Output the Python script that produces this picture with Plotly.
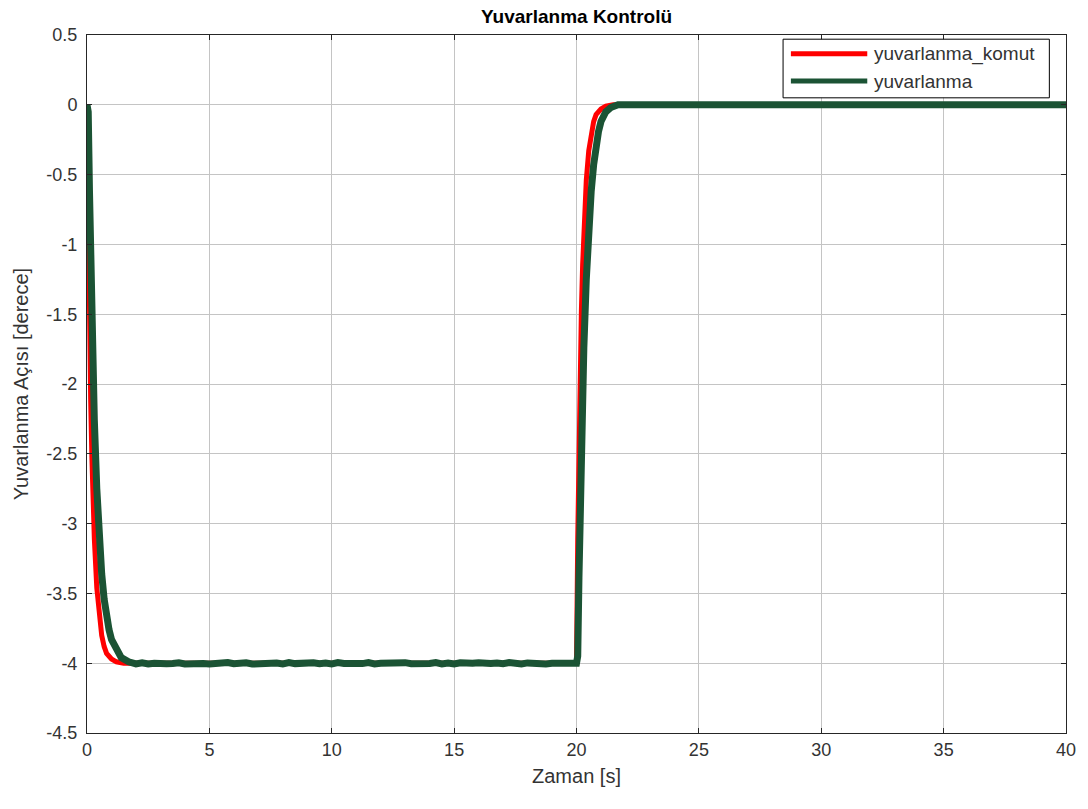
import plotly.graph_objects as go

# ---- data ----
cmd_t = [0, 0.05, 0.1, 0.15, 0.2, 0.25, 0.3, 0.4, 0.5, 0.6, 0.7, 0.8, 1.0, 1.2, 1.5,
         20.0, 20.05, 20.1, 20.15, 20.2, 20.25, 20.3, 20.4, 20.5, 20.6, 20.7, 20.8, 21.0, 21.2, 21.5, 40.0]
cmd_v = [0, -0.89, -1.57, -2.11, -2.53, -2.85, -3.11, -3.46, -3.67, -3.80, -3.88, -3.93, -3.97, -3.99, -4.0,
         -4.0, -3.11, -2.43, -1.89, -1.47, -1.15, -0.89, -0.54, -0.33, -0.20, -0.12, -0.07, -0.03, -0.01, 0.0, 0.0]

roll_t = [0, 0.05, 0.1, 0.15, 0.2, 0.3, 0.4, 0.5, 0.6, 0.7, 0.8, 0.9, 1.0, 1.2, 1.4, 1.7,
          2.0, 2.25, 2.5, 2.75, 3.0, 3.25, 3.5, 3.75, 4.0, 4.25, 4.5, 4.75, 5.0, 5.25, 5.5, 5.75,
          6.0, 6.25, 6.5, 6.75, 7.0, 7.25, 7.5, 7.75, 8.0, 8.25, 8.5, 8.75, 9.0, 9.25, 9.5, 9.75,
          10.0, 10.25, 10.5, 10.75, 11.0, 11.25, 11.5, 11.75, 12.0, 12.25, 12.5, 12.75, 13.0, 13.25, 13.5, 13.75,
          14.0, 14.25, 14.5, 14.75, 15.0, 15.25, 15.5, 15.75, 16.0, 16.25, 16.5, 16.75, 17.0, 17.25, 17.5, 17.75,
          18.0, 18.25, 18.5, 18.75, 19.0, 19.25, 19.5, 19.75, 20.0,
          20.05, 20.1, 20.15, 20.2, 20.3, 20.4, 20.5, 20.6, 20.7, 20.8, 20.9, 21.0, 21.2, 21.4, 21.7, 22.0,
          25.0, 30.0, 35.0, 40.0]
roll_v = [0, -0.05, -0.61, -1.13, -1.57, -2.26, -2.75, -3.11, -3.36, -3.54, -3.67, -3.76, -3.83, -3.91, -3.96, -3.99,
          -4.005, -3.997, -4.006, -4.000, -3.996, -4.004, -4.002, -3.997, -4.006, -4.001, -3.996, -4.003, -4.005, -3.998, -4.003, -3.995,
          -4.004, -4.000, -3.997, -4.006, -4.002, -3.996, -4.004, -3.999, -4.005, -3.996, -4.003, -4.000, -4.006, -3.997, -4.004, -3.998,
          -4.005, -3.996, -4.002, -4.006, -3.998, -4.003, -3.996, -4.005, -4.001, -3.997, -4.005, -4.000, -3.996, -4.004, -4.006, -3.998,
          -4.002, -3.996, -4.005, -3.999, -4.006, -3.997, -4.003, -4.000, -3.996, -4.005, -4.002, -3.998, -4.004, -3.995, -4.004, -4.006,
          -3.998, -4.003, -3.996, -4.005, -4.001, -3.997, -4.005, -4.000, -4.0,
          -3.95, -3.39, -2.87, -2.43, -1.74, -1.25, -0.89, -0.62, -0.43, -0.29, -0.19, -0.12, -0.05, -0.02, 0.0, 0.0,
          0.0, 0.0, 0.0, 0.0]

series_names = ["yuvarlanma_komut", "yuvarlanma"]
series_colors = ["#ff0000", "#1b5334"]

x_ticks = [0, 5, 10, 15, 20, 25, 30, 35, 40]
y_ticks = [0.5, 0, -0.5, -1, -1.5, -2, -2.5, -3, -3.5, -4, -4.5]
y_labels = ["0.5", "0", "-0.5", "-1", "-1.5", "-2", "-2.5", "-3", "-3.5", "-4", "-4.5"]

FONT = "Liberation Sans, Arial, Helvetica, sans-serif"
AX = "#333333"

fig = go.Figure()
fig.add_trace(go.Scatter(x=cmd_t, y=cmd_v, mode="lines", name=series_names[0],
                         line=dict(color=series_colors[0], width=5), showlegend=False))
fig.add_trace(go.Scatter(x=roll_t, y=roll_v, mode="lines", name=series_names[1],
                         line=dict(color=series_colors[1], width=7), showlegend=False))

axis_common = dict(showgrid=True, gridcolor="#c4c4c4", gridwidth=1,
                   showline=True, linecolor="#262626", linewidth=1, mirror="ticks",
                   ticks="inside", ticklen=5, tickcolor="#262626", zeroline=False,
                   tickfont=dict(family=FONT, size=18, color=AX))

# custom legend (box, sample lines and labels) in paper coordinates
box = dict(x0=0.711, x1=0.983, y0=0.910, y1=0.994)
line_x = (0.719, 0.797)
row_y = [0.973, 0.934]
shapes = [dict(type="rect", xref="paper", yref="paper", line=dict(color="black", width=1),
               fillcolor="white", layer="above", **box)]
annotations = []
for name, col, yy in zip(series_names, series_colors, row_y):
    shapes.append(dict(type="line", xref="paper", yref="paper", x0=line_x[0], x1=line_x[1],
                       y0=yy, y1=yy, line=dict(color=col, width=5), layer="above"))
    annotations.append(dict(xref="paper", yref="paper", x=0.802, y=yy, text=name,
                            showarrow=False, xanchor="left", yanchor="middle",
                            font=dict(family=FONT, size=19, color=AX)))

fig.update_layout(
    width=1088, height=809,
    margin=dict(l=87, r=22, t=35, b=76),
    paper_bgcolor="white", plot_bgcolor="white",
    title=dict(text="<b>Yuvarlanma Kontrolü</b>", x=(87 + 1066) / 2 / 1088, xanchor="center",
               y=1 - 16 / 809, yanchor="middle",
               font=dict(family=FONT, size=19, color="black")),
    xaxis=dict(range=[0, 40], tickvals=x_ticks, **axis_common,
               title=dict(text="Zaman [s]", standoff=10,
                          font=dict(family=FONT, size=20, color=AX))),
    yaxis=dict(range=[-4.5, 0.5], tickvals=y_ticks, ticktext=y_labels, **axis_common,
               ticklabelstandoff=5,
               title=dict(text="Yuvarlanma Açısı [derece]", standoff=12,
                          font=dict(family=FONT, size=20, color=AX))),
    shapes=shapes,
    annotations=annotations,
    showlegend=False,
)

fig.write_html("out.html")
